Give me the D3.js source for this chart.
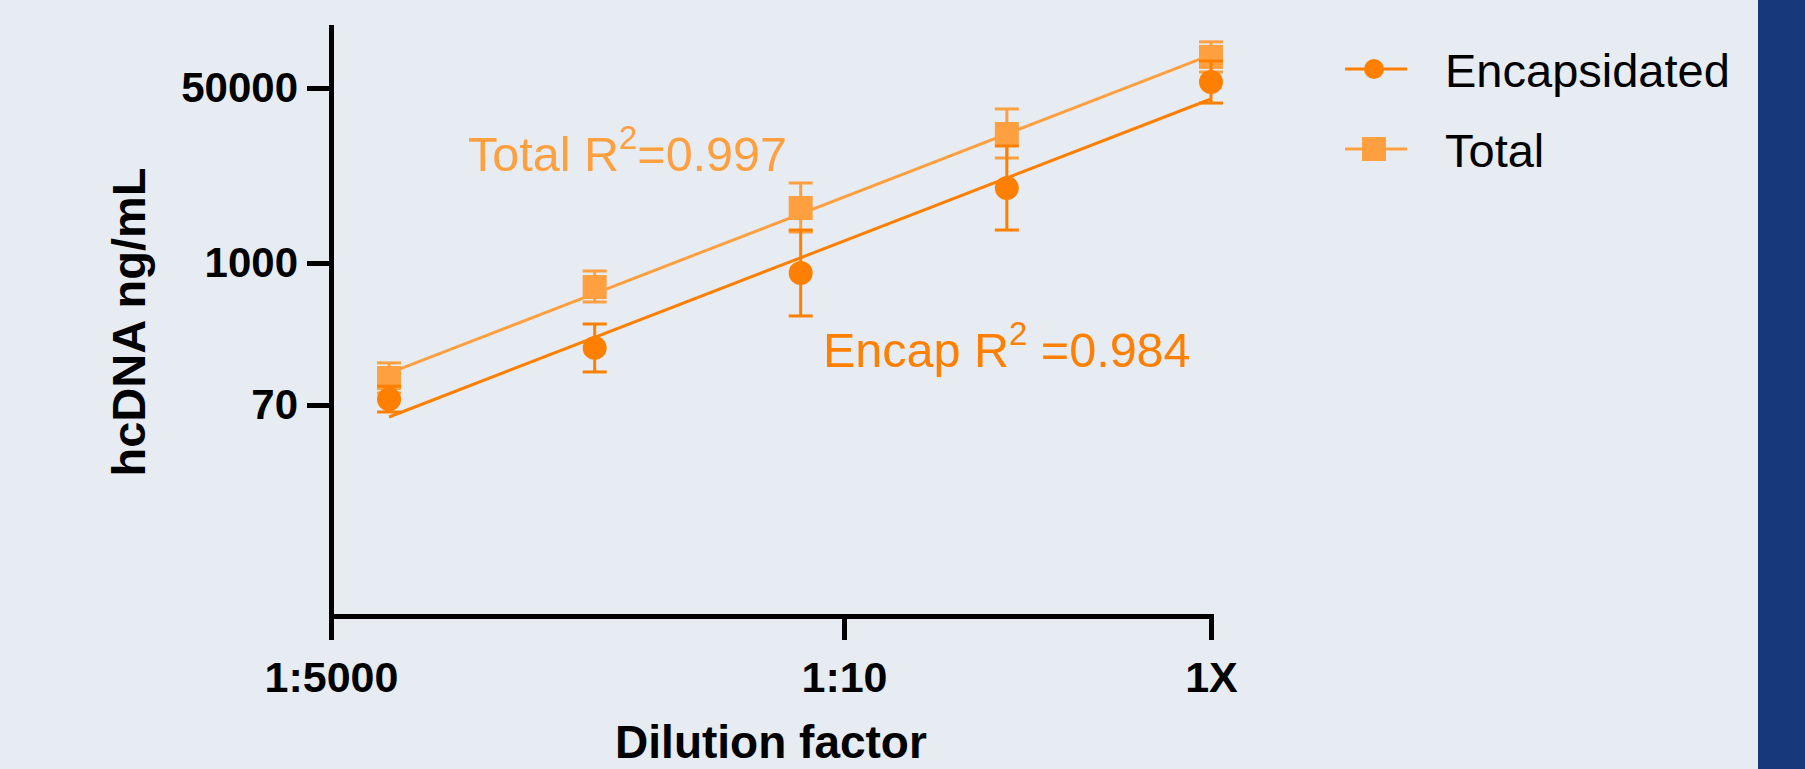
<!DOCTYPE html>
<html>
<head>
<meta charset="utf-8">
<script src="https://cdn.jsdelivr.net/npm/d3@7"></script>
<style>
    html, body { margin: 0; padding: 0; background: #E7EBF2; }
    svg { display: block; }
    text { font-family: "Liberation Sans", Arial, sans-serif; }
</style>
</head>
<body>
<div id="chart"></div>
<script>
// dilution of each sample (x)
var dilutions = [1/2475, 1/205, 1/16.9, 1/3.6, 1];

// hcDNA ng/mL, means and error bar ends
var encapMean = [78, 204, 830, 5350, 57100];
var encapLow  = [61.4, 130, 371, 2090, 35700];
var encapHigh = [99.6, 319, 2090, 13680, 91400];

var totalMean = [116, 638, 3420, 17870, 100000];
var totalLow  = [87.7, 482, 2000, 10450, 71400];
var totalHigh = [154, 861, 5980, 31300, 140000];

// fitted lines, value at first and last dilution
var encapFit = [55.9, 39100];
var totalFit = [127, 104500];

var xTickValues = [1/5000, 1/10, 1];
var xTickLabels = ["1:5000", "1:10", "1X"];
var yTickValues = [70, 1000, 50000];
var yTickLabels = ["70", "1000", "50000"];
// the axis is drawn beyond the labelled ticks
var yAxisMin = 1.34, yAxisMax = 195000;

var seriesNames = ["Encapsidated", "Total"];
var colors = {Encapsidated: "#FF8000", Total: "#FFA040"};

class DilutionPlot {
    constructor(parent_el, svg_width, svg_height) {
        this.parent_el = parent_el;
        this.svg_width = svg_width;
        this.svg_height = svg_height;
        this.svg = this.parent_el.append("svg")
            .attr("width", this.svg_width)
            .attr("height", this.svg_height);
        // labelled ticks are not evenly spaced per decade, so piecewise log scales
        this.x = d3.scaleLog().domain(xTickValues).range([331, 844, 1211]);
        this.y = d3.scaleLog()
            .domain([yAxisMin].concat(yTickValues, [yAxisMax]))
            .range([616, 405, 263, 88, 27]);
    }
    draw_background() {
        this.svg.append("rect")
            .attr("width", this.svg_width).attr("height", this.svg_height)
            .attr("fill", "#E7EBF2");
        this.svg.append("rect")
            .attr("x", 1758).attr("width", this.svg_width - 1758)
            .attr("height", this.svg_height)
            .attr("fill", "#15397B");
    }
    draw_axes() {
        var xAxis = d3.axisBottom(this.x)
            .tickValues(xTickValues)
            .tickFormat(function(d, i) { return xTickLabels[i]; })
            .tickSize(24).tickSizeOuter(0).tickPadding(21);
        var yAxis = d3.axisLeft(this.y)
            .tickValues(yTickValues)
            .tickFormat(function(d, i) { return yTickLabels[i]; })
            .tickSize(24).tickSizeOuter(0).tickPadding(9);

        var gx = this.svg.append("g")
            .attr("class", "axis axis--x")
            .attr("transform", "translate(0,616)")
            .call(xAxis);
        var gy = this.svg.append("g")
            .attr("class", "axis axis--y")
            .attr("transform", "translate(331,0)")
            .call(yAxis);

        [gx, gy].forEach(function(g) {
            g.select(".domain").attr("stroke", "#000").attr("stroke-width", 5)
                .attr("stroke-linecap", "square");
            g.selectAll(".tick line").attr("stroke", "#000").attr("stroke-width", 5);
            g.selectAll(".tick text")
                .attr("fill", "#000")
                .style("font-size", "42px")
                .style("font-weight", "bold")
                .style("font-family", "'Liberation Sans', Arial, sans-serif");
        });
        gx.selectAll(".tick text").style("font-size", "43px");

        this.svg.append("text")
            .attr("x", 771).attr("y", 758)
            .attr("text-anchor", "middle")
            .style("font-size", "46px").style("font-weight", "bold")
            .text("Dilution factor");

        this.svg.append("text")
            .attr("transform", "translate(145,322) rotate(-90)")
            .attr("text-anchor", "middle")
            .style("font-size", "47px").style("font-weight", "bold")
            .text("hcDNA ng/mL");
    }
    draw_series(name, mean, low, high, fit) {
        var that = this;
        var color = colors[name];
        var g = this.svg.append("g").attr("class", "series");
        var rows = dilutions.map(function(d, i) {
            return {x: d, mean: mean[i], low: low[i], high: high[i]};
        });

        var line = d3.line()
            .x(function(d) { return that.x(d[0]); })
            .y(function(d) { return that.y(d[1]); });
        g.append("path")
            .datum([[dilutions[0], fit[0]], [dilutions[dilutions.length - 1], fit[1]]])
            .attr("d", line)
            .attr("fill", "none")
            .attr("stroke", color)
            .attr("stroke-width", 3);

        var err = g.selectAll(".err").data(rows).enter().append("g")
            .attr("class", "err")
            .attr("stroke", color)
            .attr("stroke-width", 3);
        err.append("line")
            .attr("x1", function(d) { return that.x(d.x); })
            .attr("x2", function(d) { return that.x(d.x); })
            .attr("y1", function(d) { return that.y(d.low); })
            .attr("y2", function(d) { return that.y(d.high); });
        ["low", "high"].forEach(function(k) {
            err.append("line")
                .attr("x1", function(d) { return that.x(d.x) - 12; })
                .attr("x2", function(d) { return that.x(d.x) + 12; })
                .attr("y1", function(d) { return that.y(d[k]); })
                .attr("y2", function(d) { return that.y(d[k]); });
        });

        if (name === "Encapsidated") {
            g.selectAll(".marker").data(rows).enter().append("circle")
                .attr("class", "marker")
                .attr("cx", function(d) { return that.x(d.x); })
                .attr("cy", function(d) { return that.y(d.mean); })
                .attr("r", 12)
                .attr("fill", color);
        } else {
            g.selectAll(".marker").data(rows).enter().append("rect")
                .attr("class", "marker")
                .attr("x", function(d) { return that.x(d.x) - 12; })
                .attr("y", function(d) { return that.y(d.mean) - 12; })
                .attr("width", 24).attr("height", 24)
                .attr("fill", color);
        }
    }
    draw_annotations() {
        var notes = [
            {name: "Total", x: 468, y: 171, pre: "Total R", post: "=0.997"},
            {name: "Encapsidated", x: 823, y: 367, pre: "Encap R", post: " =0.984"}
        ];
        var that = this;
        notes.forEach(function(n) {
            var t = that.svg.append("text")
                .attr("x", n.x).attr("y", n.y)
                .attr("fill", colors[n.name])
                .style("font-size", "48.5px")
                .style("white-space", "pre")
                .attr("xml:space", "preserve");
            t.append("tspan").text(n.pre);
            t.append("tspan").attr("dy", -22).style("font-size", "33px").text("2");
            t.append("tspan").attr("dy", 22).text(n.post);
        });
    }
    draw_legend() {
        var items = this.svg.selectAll(".legend").data(seriesNames).enter().append("g")
            .attr("class", "legend")
            .attr("transform", function(d, i) { return "translate(0," + (69 + i * 80) + ")"; });
        items.append("line")
            .attr("x1", 1345).attr("x2", 1407)
            .attr("stroke", function(d) { return colors[d]; })
            .attr("stroke-width", 3);
        items.each(function(d) {
            var el = d3.select(this);
            if (d === "Encapsidated") {
                el.append("circle").attr("cx", 1374).attr("r", 10).attr("fill", colors[d]);
            } else {
                el.append("rect").attr("x", 1362).attr("y", -12)
                    .attr("width", 24).attr("height", 24).attr("fill", colors[d]);
            }
        });
        items.append("text")
            .attr("x", 1445).attr("y", 18)
            .style("font-size", "47px")
            .attr("fill", "#000")
            .text(function(d) { return d; });
    }
    visualize() {
        this.draw_background();
        this.draw_series("Total", totalMean, totalLow, totalHigh, totalFit);
        this.draw_series("Encapsidated", encapMean, encapLow, encapHigh, encapFit);
        this.draw_axes();
        this.draw_annotations();
        this.draw_legend();
    }
}

var plot = new DilutionPlot(d3.select("#chart"), 1805, 769);
plot.visualize();
</script>
</body>
</html>
